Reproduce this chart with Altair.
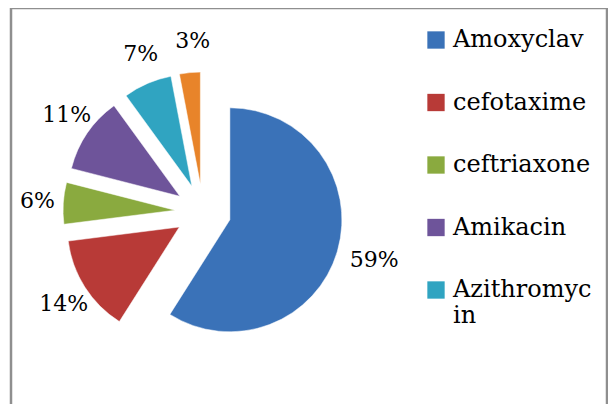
import altair as alt
import pandas as pd

categories = ["Amoxyclav", "cefotaxime", "ceftriaxone", "Amikacin", "Azithromycin", "Others"]
values = [59, 14, 6, 11, 7, 3]
labels = ["59%", "14%", "6%", "11%", "7%", "3%"]
colors = ["#3A72B8", "#B83A37", "#8AAA3F", "#6E549A", "#30A4C1", "#E8842A"]
legend_entries = categories[:5]

df = pd.DataFrame({"name": categories, "value": values, "label": labels,
                   "idx": list(range(len(categories)))})

FONT = "DejaVu Serif"
CX, CY = 195, 204      # pie centre (plot coords)
E = 28                 # explosion distance
R = 112                # radius
L = 172                # label distance
LDX = 6                # label horizontal nudge

base = alt.Chart(df).transform_window(
    cum="sum(value)", sort=[alt.SortField("idx")], frame=[None, 0]
).transform_joinaggregate(
    total="sum(value)"
).transform_calculate(
    t0="2*PI*(datum.cum - datum.value)/datum.total",
    t1="2*PI*datum.cum/datum.total",
).transform_calculate(
    mid="(datum.t0 + datum.t1)/2"
).transform_calculate(
    cx=f"{CX} + {E}*sin(datum.mid)",
    cy=f"{CY} - {E}*cos(datum.mid)",
    lx=f"{CX + LDX} + {L}*sin(datum.mid)",
    ly=f"{CY} - {L}*cos(datum.mid)",
)

arcs = base.mark_arc(outerRadius=R, stroke="white", strokeWidth=0.5).encode(
    x=alt.X("cx:Q", scale=None),
    y=alt.Y("cy:Q", scale=None),
    theta=alt.Theta("t0:Q", scale=None),
    theta2="t1:Q",
    color=alt.Color(
        "name:N",
        scale=alt.Scale(domain=categories, range=colors),
        legend=alt.Legend(
            title=None, orient="none", legendX=416, legendY=20,
            values=legend_entries, symbolType="square", symbolSize=300,
            symbolStrokeWidth=0, labelFont=FONT, labelFontSize=24,
            labelColor="black", labelOffset=5, labelLimit=220, rowPadding=38.5,
            labelExpr="datum.label == 'Azithromycin' ? ['Azithromyc', 'in'] : datum.label",
        ),
    ),
)

texts = base.mark_text(font=FONT, fontSize=22, color="black").encode(
    x=alt.X("lx:Q", scale=None),
    y=alt.Y("ly:Q", scale=None),
    text="label:N",
)

frame_df = pd.DataFrame({"k": [0]})
frame_color = "#8f8f8f"
top = alt.Chart(frame_df).mark_rule(color=frame_color, strokeWidth=2.5).encode(
    x=alt.value(3), x2=alt.value(600), y=alt.value(0))
left = alt.Chart(frame_df).mark_rule(color=frame_color, strokeWidth=2.5).encode(
    x=alt.value(3), y=alt.value(0), y2=alt.value(396))
right = alt.Chart(frame_df).mark_rule(color=frame_color, strokeWidth=2.5).encode(
    x=alt.value(599), y=alt.value(0), y2=alt.value(396))

chart = alt.layer(top, left, right, arcs, texts).properties(
    width=600, height=396, padding=0,
    autosize=alt.AutoSizeParams(type="none"),
).configure_view(stroke=None)

chart.save("out.html", embed_options={"renderer": "svg", "actions": False})
